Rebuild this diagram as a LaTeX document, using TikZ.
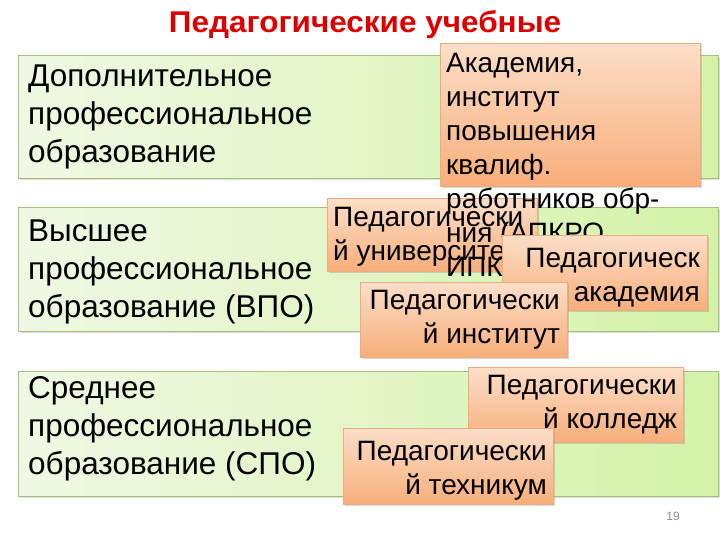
\documentclass[tikz,border=0pt]{standalone}
\usepackage{fontspec}
\setmainfont{Liberation Sans}
\newfontfamily\titlefont[FakeStretch=1.05]{Liberation Sans}
\usetikzlibrary{shadows}
\definecolor{glight}{RGB}{239,248,228}
\definecolor{gdark}{RGB}{212,243,168}
\definecolor{gborder}{RGB}{165,192,125}
\definecolor{olight}{RGB}{252,222,200}
\definecolor{odark}{RGB}{247,174,122}
\definecolor{oborder}{RGB}{238,172,122}
\definecolor{titlered}{RGB}{222,0,0}
\definecolor{pgnum}{RGB}{140,140,140}
\tikzset{
  gbox/.style={draw=gborder, line width=0.7pt, left color=glight, right color=gdark,
    drop shadow={opacity=0.25, shadow xshift=1.5pt, shadow yshift=-2pt},
    inner sep=0pt, anchor=north west},
  obox/.style={draw=oborder, line width=0.7pt, top color=olight, bottom color=odark,
    drop shadow={opacity=0.3, shadow xshift=1.5pt, shadow yshift=-2pt},
    inner sep=0pt, anchor=north west},
  gtext/.style={font=\fontsize{31.5}{38}\selectfont, align=left, inner sep=0pt, anchor=north west},
  otextl/.style={font=\fontsize{28}{34}\selectfont, align=left, inner sep=0pt, anchor=north west},
  otextr/.style={font=\fontsize{28}{34}\selectfont, align=right, inner sep=0pt, anchor=north east},
}
\begin{document}
\begin{tikzpicture}[x=1pt,y=-1pt]
\useasboundingbox[fill=white] (0,0) rectangle (720,540);

% title
\node[font=\titlefont\bfseries\fontsize{30}{33}\selectfont, text=titlered, anchor=base, inner sep=0pt] (title) at (365,33) {Педагогические учебные};

% green level boxes
\node[gbox, minimum width=700pt, minimum height=123pt] (g1) at (18,55) {};
\node[gtext] (g1t) at (28,65) {Дополнительное\\профессиональное\\образование};

\node[gbox, minimum width=700pt, minimum height=124pt] (g2) at (18,207) {};
\node[gtext] (g2t) at (28,219.5) {Высшее\\профессиональное\\образование (ВПО)};

\node[gbox, minimum width=700pt, minimum height=125pt] (g3) at (18,371) {};
\node[gtext] (g3t) at (28,376.5) {Среднее\\профессиональное\\образование (СПО)};

% university
\node[obox, minimum width=210pt, minimum height=73pt] (univ) at (327,198) {};
\node[otextl] (univt) at (333,207) {Педагогически\\й университе};

% academy of further training
\node[obox, minimum width=260pt, minimum height=143pt] (apk) at (440,43) {};
\node[otextl] (apkt) at (446,53) {Академия,\\институт\\повышения\\квалиф.\\работников обр-\\ния (АПКРО,\\ИПК};

% pedagogical academy
\node[obox, minimum width=205pt, minimum height=75pt] (acad) at (502,235) {};
\node[otextr] (acadt) at (700,248) {Педагогическ\\академия};

% institute
\node[obox, minimum width=207pt, minimum height=75pt] (inst) at (360,282) {};
\node[otextr] (instt) at (560,290) {Педагогически\\й институт};

% college
\node[obox, minimum width=215pt, minimum height=75pt] (coll) at (468,367) {};
\node[otextr] (collt) at (677,375) {Педагогически\\й колледж};

% technical school
\node[obox, minimum width=210pt, minimum height=76pt] (tech) at (343,428) {};
\node[otextr] (techt) at (547,441) {Педагогически\\й техникум};

% page number
\node[font=\fontsize{12}{14}\selectfont, text=pgnum, inner sep=0pt] (pg) at (673,516) {19};
\end{tikzpicture}
\end{document}
